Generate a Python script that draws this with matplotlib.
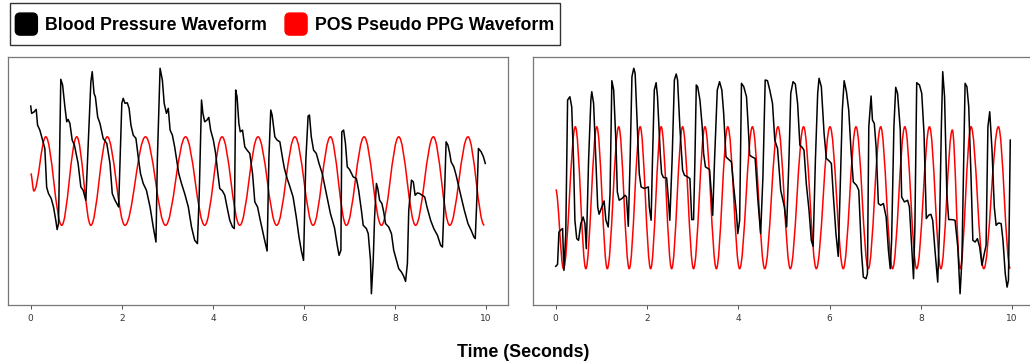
import numpy as np
import matplotlib
matplotlib.use("Agg")
import matplotlib.pyplot as plt
from matplotlib.path import Path
from matplotlib.patches import PathPatch, FancyBboxPatch, Patch
from matplotlib.legend_handler import HandlerPatch

# (time in s, amplitude), arbitrary units
left_bp = [
    (0.00, 194), (0.02, 186.7), (0.07, 188), (0.12, 190.7), (0.15, 175), (0.20, 170), (0.26, 160),
    (0.31, 151.7), (0.35, 113), (0.39, 106.7), (0.45, 101.7), (0.50, 93.3), (0.55, 80), (0.58, 70.7),
    (0.61, 76.7), (0.66, 220.7), (0.70, 215), (0.75, 193.3), (0.79, 178.3), (0.82, 180.7), (0.86, 176.7),
    (0.91, 160), (0.96, 155), (1.04, 136.7), (1.10, 113.3), (1.15, 110), (1.21, 100), (1.32, 218),
    (1.35, 228.3), (1.39, 206.7), (1.42, 203), (1.47, 183), (1.52, 176.7), (1.59, 161.7), (1.67, 156.7),
    (1.74, 136.7), (1.79, 106.7), (1.85, 100), (1.93, 93.3), (2.00, 196.7), (2.03, 201.7), (2.07, 196.7),
    (2.12, 197.3), (2.16, 191.7), (2.20, 175), (2.25, 165), (2.31, 161.7), (2.36, 143.3), (2.41, 126.7),
    (2.47, 116.7), (2.54, 110), (2.62, 93.3), (2.69, 73.3), (2.75, 58.3), (2.78, 140), (2.84, 231.7),
    (2.89, 220), (2.93, 196.7), (2.98, 186.7), (3.02, 191.7), (3.06, 170), (3.11, 165), (3.16, 153.3),
    (3.25, 126.7), (3.31, 116.7), (3.38, 106.7), (3.46, 93.3), (3.53, 73.3), (3.60, 60), (3.66, 56.7),
    (3.70, 106.7), (3.75, 200), (3.78, 186.7), (3.82, 178.3), (3.87, 180), (3.91, 182.7), (3.95, 170),
    (4.01, 160), (4.06, 146.7), (4.10, 130), (4.15, 111.7), (4.21, 109.3), (4.26, 105), (4.31, 93.3),
    (4.37, 80), (4.43, 73.3), (4.47, 71.7), (4.50, 210), (4.53, 203.3), (4.57, 176.7), (4.60, 168.3),
    (4.65, 170), (4.70, 153.3), (4.75, 150), (4.81, 146.7), (4.87, 126.7), (4.92, 98.3), (4.98, 93.3),
    (5.04, 80), (5.12, 63.3), (5.19, 49.3), (5.23, 143.3), (5.27, 190), (5.30, 185), (5.36, 163.3),
    (5.41, 160), (5.47, 158.3), (5.53, 141.7), (5.57, 131.7), (5.63, 121.7), (5.68, 115), (5.76, 103.3),
    (5.83, 83.3), (5.89, 63.3), (5.94, 50), (5.99, 40), (6.04, 140), (6.09, 184), (6.12, 185),
    (6.16, 163.3), (6.21, 150), (6.27, 146.7), (6.33, 136.7), (6.40, 126.7), (6.49, 106.7), (6.58, 86.7),
    (6.67, 72.5), (6.73, 55), (6.77, 45), (6.81, 50), (6.83, 168.3), (6.87, 170), (6.91, 156.7),
    (6.95, 133.3), (7.00, 130.7), (7.08, 123.3), (7.15, 121.7), (7.20, 110), (7.26, 90), (7.30, 75),
    (7.37, 71.7), (7.41, 66.7), (7.46, 40), (7.48, 6.7), (7.52, 40), (7.55, 83.3), (7.59, 116.7),
    (7.62, 111.7), (7.66, 100), (7.71, 96.7), (7.75, 88.3), (7.79, 76.7), (7.86, 73.3), (7.92, 66.7),
    (7.97, 50), (8.03, 40), (8.08, 31.7), (8.14, 28.3), (8.19, 24), (8.23, 19), (8.27, 36.7),
    (8.30, 90), (8.36, 120), (8.40, 118.3), (8.44, 105), (8.49, 107.3), (8.54, 106.7), (8.59, 105),
    (8.65, 103.3), (8.70, 93.3), (8.78, 80), (8.85, 71.7), (8.93, 65), (9.00, 55), (9.04, 53.3),
    (9.09, 113.3), (9.12, 158.3), (9.16, 155), (9.20, 146.7), (9.23, 138.3), (9.29, 133.3), (9.34, 125),
    (9.39, 115), (9.45, 103.3), (9.52, 90), (9.60, 76.7), (9.67, 70), (9.73, 63.3), (9.76, 61.7),
    (9.80, 106.7), (9.83, 151.7), (9.89, 148.3), (9.94, 143.3), (9.98, 136.7),
]

right_bp = [
    (0.00, 34), (0.04, 36), (0.07, 68.3), (0.12, 70.7), (0.15, 71.7), (0.18, 30), (0.22, 66.7),
    (0.26, 200), (0.31, 203.3), (0.35, 193.3), (0.39, 140), (0.42, 80), (0.46, 61.7), (0.50, 60),
    (0.55, 76.7), (0.60, 83.3), (0.64, 76.7), (0.67, 51.7), (0.72, 140), (0.77, 200), (0.79, 208.3),
    (0.83, 196.7), (0.88, 140), (0.92, 93.3), (0.95, 86), (1.01, 93.3), (1.06, 99.3), (1.10, 80),
    (1.15, 73.3), (1.19, 106.7), (1.23, 219.3), (1.27, 210), (1.32, 156.7), (1.35, 108.3), (1.39, 100),
    (1.45, 101.7), (1.52, 105), (1.55, 103.3), (1.59, 74), (1.63, 140), (1.67, 223.3), (1.71, 231.7),
    (1.74, 226.7), (1.78, 183.3), (1.83, 126.7), (1.87, 113.3), (1.94, 111.7), (2.03, 113.3),
    (2.05, 93.3), (2.09, 80), (2.12, 140), (2.16, 210), (2.20, 217.3), (2.23, 203.3), (2.29, 146.7),
    (2.32, 126.7), (2.36, 122.7), (2.43, 122.3), (2.47, 100), (2.50, 80), (2.55, 140), (2.60, 220),
    (2.64, 226), (2.67, 220), (2.72, 173.3), (2.78, 130), (2.82, 125), (2.89, 123.3), (2.94, 121.7),
    (2.98, 80.7), (3.02, 80.7), (3.05, 140), (3.08, 215), (3.11, 213.3), (3.16, 200), (3.21, 173.3),
    (3.24, 146.7), (3.28, 133.3), (3.37, 130.7), (3.41, 106.7), (3.44, 85), (3.48, 140), (3.54, 210),
    (3.59, 218.3), (3.64, 210), (3.68, 186.7), (3.73, 143.3), (3.79, 140.7), (3.85, 138.3),
    (3.90, 113.3), (3.96, 86.7), (3.99, 66.7), (4.03, 80), (4.07, 216.7), (4.12, 213.3), (4.18, 203.3),
    (4.21, 180), (4.25, 145), (4.30, 143.3), (4.37, 141.7), (4.43, 100), (4.49, 66.7), (4.54, 123.3),
    (4.59, 220), (4.64, 219.3), (4.69, 210), (4.75, 196.7), (4.80, 160), (4.86, 151.7), (4.93, 110),
    (5.01, 93.3), (5.06, 73.3), (5.11, 140), (5.15, 206.7), (5.20, 218.3), (5.25, 216), (5.30, 196.7),
    (5.35, 155), (5.40, 152.7), (5.44, 150), (5.49, 116.7), (5.55, 90), (5.60, 60), (5.64, 54),
    (5.69, 140), (5.74, 206.7), (5.77, 221.7), (5.82, 213.3), (5.88, 166.7), (5.93, 141.7),
    (5.99, 139.3), (6.04, 136.7), (6.08, 106.7), (6.14, 66.7), (6.19, 44), (6.23, 106.7), (6.28, 190),
    (6.32, 219.3), (6.37, 208.3), (6.42, 190), (6.47, 150), (6.52, 118.3), (6.59, 115), (6.64, 110),
    (6.70, 48), (6.74, 23.3), (6.80, 21.7), (6.83, 26.7), (6.86, 173.3), (6.91, 204), (6.94, 180),
    (6.98, 176.7), (7.02, 153.3), (7.07, 96.7), (7.12, 95), (7.18, 96.7), (7.24, 83.3), (7.29, 50),
    (7.33, 31.7), (7.36, 60), (7.41, 173.3), (7.45, 212.7), (7.49, 206.7), (7.55, 170), (7.58, 103.3),
    (7.64, 98.3), (7.71, 100), (7.75, 93.3), (7.80, 53.3), (7.84, 21.7), (7.87, 73.3), (7.91, 217.3),
    (7.97, 215), (8.02, 206.7), (8.07, 166.7), (8.12, 81.7), (8.17, 85), (8.22, 86), (8.26, 80),
    (8.31, 50), (8.37, 18.3), (8.41, 73.3), (8.45, 173.3), (8.48, 228.3), (8.52, 203.3), (8.57, 106.7),
    (8.61, 80.7), (8.68, 80.7), (8.75, 80), (8.81, 53.3), (8.86, 6.7), (8.90, 40), (8.94, 140),
    (8.97, 216.7), (9.01, 213.3), (9.05, 193.3), (9.10, 123.3), (9.14, 60), (9.19, 58.3), (9.24, 61.7),
    (9.29, 53.3), (9.34, 35), (9.39, 46.7), (9.43, 55), (9.47, 173.3), (9.51, 188.3), (9.56, 150),
    (9.61, 93.3), (9.65, 75), (9.70, 77.3), (9.76, 76.7), (9.80, 60), (9.85, 26.7), (9.89, 13.3),
    (9.92, 20), (9.96, 160),
]

# turning points of the POS pseudo PPG (start, then troughs / peaks)
left_ppg = [
    (0.00, 126.7), (0.07, 109.3), (0.33, 163.3), (0.68, 75), (1.01, 163.3), (1.32, 75), (1.68, 163.3),
    (2.07, 75), (2.52, 163.3), (2.96, 75), (3.40, 163.3), (3.82, 75), (4.20, 163.3), (4.59, 75),
    (4.99, 163.3), (5.40, 75), (5.80, 163.3), (6.20, 75), (6.58, 163.3), (6.93, 75), (7.32, 163.3),
    (7.70, 75), (8.08, 163.3), (8.45, 75), (8.84, 163.3), (9.20, 75), (9.60, 163.3), (9.96, 75),
]

right_ppg = [
    (0.00, 110.7), (0.17, 31.7), (0.43, 173.3), (0.66, 31.7), (0.90, 173.3), (1.13, 31.7),
    (1.38, 173.3), (1.61, 31.7), (1.85, 173.3), (2.08, 31.7), (2.31, 173.3), (2.54, 31.7),
    (2.78, 173.3), (3.02, 31.7), (3.27, 173.3), (3.52, 31.7), (3.77, 173.3), (4.03, 31.7),
    (4.31, 173.3), (4.58, 31.7), (4.87, 173.3), (5.14, 31.7), (5.43, 173.3), (5.71, 31.7),
    (6.01, 173.3), (6.30, 31.7), (6.58, 173.3), (6.85, 31.7), (7.12, 173.3), (7.38, 31.7),
    (7.65, 173.3), (7.91, 31.7), (8.19, 173.3), (8.44, 31.7), (8.69, 170), (8.86, 31.7),
    (9.10, 173.3), (9.38, 31.7), (9.70, 173.3), (9.96, 31.7),
]

xticks = [0, 2, 4, 6, 8, 10]
legend_labels = ["Blood Pressure Waveform", "POS Pseudo PPG Waveform"]


def smooth_wave(points):
    # cubic bezier between turning points, flat tangents at each one
    k = 0.3642
    pts = np.array(points, dtype=float)
    verts = [tuple(pts[0])]
    codes = [Path.MOVETO]
    for (t0, v0), (t1, v1) in zip(pts[:-1], pts[1:]):
        dt = t1 - t0
        verts += [(t0 + k * dt, v0), (t1 - k * dt, v1), (t1, v1)]
        codes += [Path.CURVE4] * 3
    return Path(verts, codes)


def draw_panel(ax, bp, ppg):
    bp = np.array(bp)
    ax.plot(bp[:, 0], bp[:, 1], color="black", lw=1.1)
    ax.add_patch(PathPatch(smooth_wave(ppg), fill=False, edgecolor="red", lw=1.1))
    ax.set_xticks(xticks)
    ax.set_yticks([])
    ax.tick_params(axis="x", labelsize=6.5, length=3, width=0.6, colors="#333333")
    for s in ax.spines.values():
        s.set_color("#777777")
        s.set_linewidth(0.9)


def make_round(legend, orig_handle, xdescent, ydescent, width, height, fontsize):
    # square swatch, vertically centred in the (taller) handle box
    return FancyBboxPatch((-xdescent, -ydescent + (height - width) / 2), width, width,
                          boxstyle="round,pad=0,rounding_size=3.5")


fig = plt.figure(figsize=(10.3, 3.62), dpi=100)
ax1 = fig.add_axes([8 / 1030, 57 / 362, 500 / 1030, 248 / 362])
ax2 = fig.add_axes([533 / 1030, 57 / 362, 500 / 1030, 248 / 362])
draw_panel(ax1, left_bp, left_ppg)
draw_panel(ax2, right_bp, right_ppg)

handles = [Patch(facecolor="black", edgecolor="black"), Patch(facecolor="red", edgecolor="red")]
leg = fig.legend(handles, legend_labels, loc="upper left", bbox_to_anchor=(10 / 1030, 1 - 3 / 362),
                 ncol=2, frameon=True, fancybox=False, edgecolor="black", borderaxespad=0,
                 handlelength=1.24, handleheight=2.35, handletextpad=0.45, columnspacing=1.0,
                 borderpad=0.3, handler_map={Patch: HandlerPatch(patch_func=make_round)},
                 prop={"family": "Liberation Sans", "weight": "bold", "size": 12.8})
leg.get_frame().set_linewidth(1.0)

fig.text(0.508, 0.026, "Time (Seconds)", ha="center", va="center",
         family="Liberation Sans", weight="bold", fontsize=12.8)

fig.savefig("out.png", dpi=100)
